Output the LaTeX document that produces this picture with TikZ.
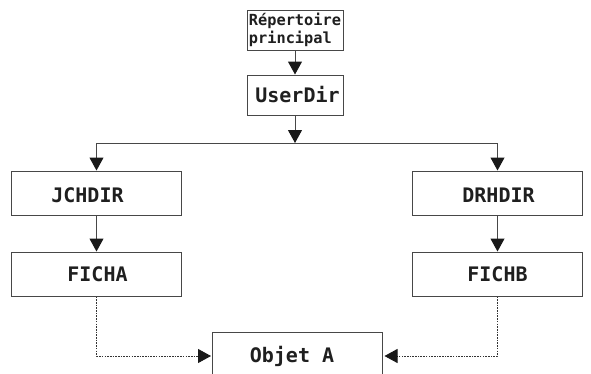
\documentclass[tikz,border=0pt]{standalone}
\usepackage{fontspec}
\setmonofont{DejaVu Sans Mono}
\usetikzlibrary{arrows.meta,positioning}
\tikzset{
  x=1pt,y=-1pt,
  linecol/.style={draw=black!72!white,line width=1pt},
  boxbase/.style={linecol,rectangle,inner sep=0pt,text=black!88!white,font=\ttfamily\bfseries\fontsize{20}{22}\selectfont},
  bigbox/.style={boxbase,minimum width=170pt,minimum height=44pt},
  topbox/.style={boxbase,minimum width=96pt,minimum height=40pt},
  smalltext/.style={font=\ttfamily\bfseries\fontsize{15.3}{18}\selectfont,align=left},
  textshift/.style 2 args={text height={17.2pt+(#2)},text depth={2.8pt-(#2)},execute at begin node={\hspace*{\dimexpr 2\dimexpr #1\relax\relax}}},
  arrowline/.style={linecol,-{Triangle[width=14pt,length=13pt,color=black!90!white]}},
  dashline/.style={draw=black!80!white,line width=0.9pt,dash pattern=on 1.6pt off 1.1pt,-{Triangle[width=14pt,length=13pt,color=black!90!white]}},
}
\begin{document}
\begin{tikzpicture}
\useasboundingbox (0,0) rectangle (591,373);
\clip (0,0) rectangle (591,373);
\fill[white] (0,0) rectangle (591,373);
\node[topbox,smalltext] (rep) at (295,30) {Répertoire\\principal};
\node[topbox,textshift={2.5pt}{0.5pt}] (user) at (295,95) {UserDir};
\node[bigbox,textshift={-9pt}{2.5pt}] (jch) at (96.5,193) {JCHDIR};
\node[bigbox,textshift={1pt}{0pt}] (fa) at (96.5,274) {FICHA};
\node[bigbox,textshift={1pt}{2.5pt}] (drh) at (497.5,193) {DRHDIR};
\node[bigbox,textshift={0pt}{0pt}] (fb) at (497.5,274) {FICHB};
\node[bigbox,textshift={-5.5pt}{1pt}] (obj) at (297.5,354) {Objet A};
\coordinate (bus) at (295,143);
\draw[arrowline] (rep) -- (user);
\draw[arrowline] (user) -- (bus);
\draw[arrowline] (bus) -| (jch.north);
\draw[arrowline] (bus) -| (drh.north);
\draw[arrowline] (jch) -- (fa);
\draw[arrowline] (drh) -- (fb);
\coordinate (objl) at ([xshift=-1pt,yshift=-2pt]obj.west);
\coordinate (objr) at ([xshift=1.5pt,yshift=-2pt]obj.east);
\draw[dashline] (fa.south) |- (objl);
\draw[dashline] (fb.south) |- (objr);
\end{tikzpicture}
\end{document}
